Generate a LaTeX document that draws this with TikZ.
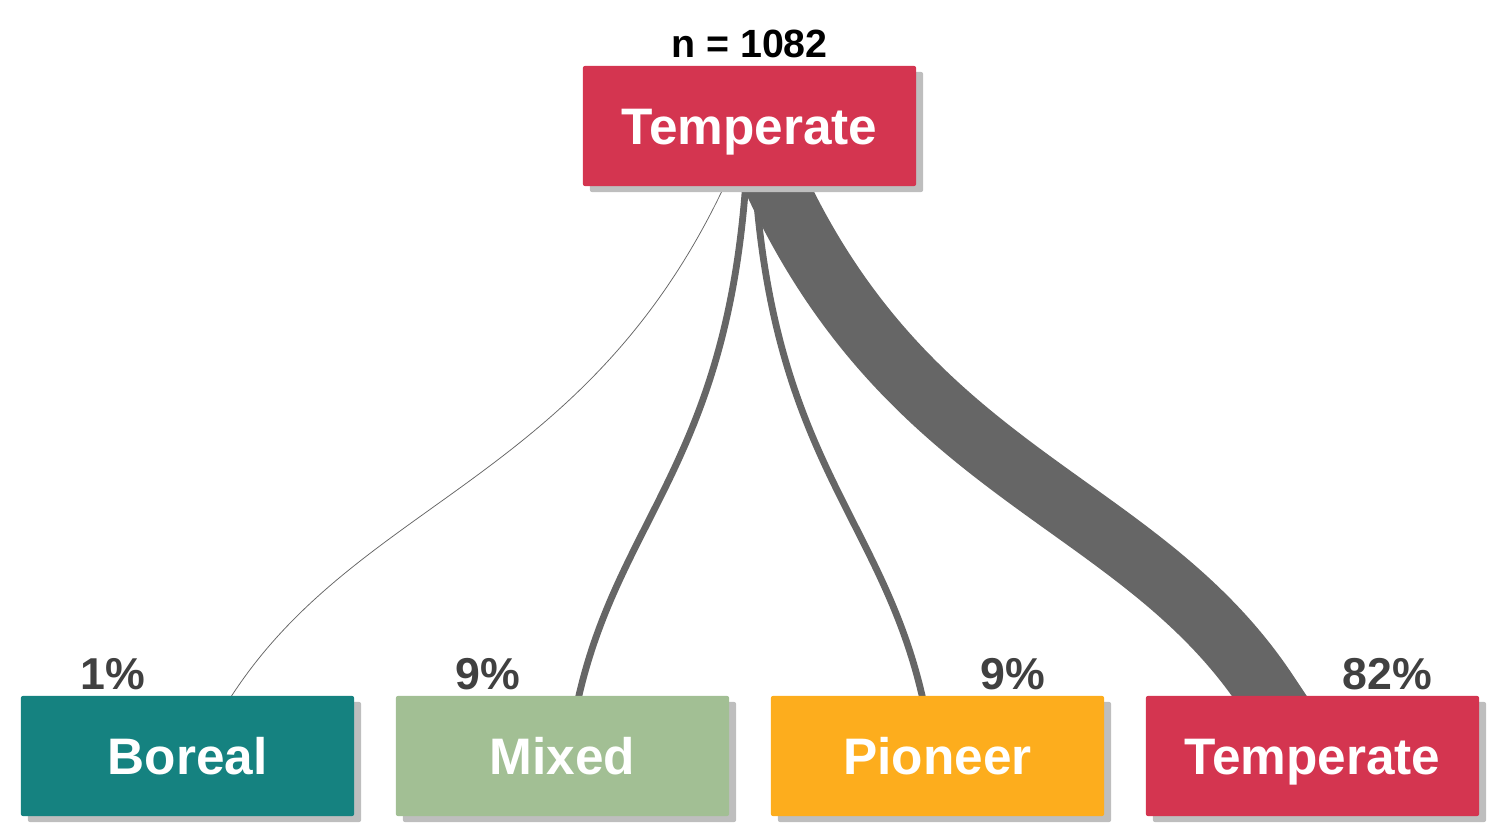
\documentclass[tikz,border=0pt]{standalone}
\usepackage{fontspec}
\setmainfont{Liberation Sans}
\usetikzlibrary{shadows}
\definecolor{tempred}{HTML}{D43550}
\definecolor{borealteal}{HTML}{158280}
\definecolor{mixedgreen}{HTML}{A2BF94}
\definecolor{pioneeryellow}{HTML}{FDAD1D}
\definecolor{shadowgrey}{HTML}{BEBEBE}
\definecolor{flowgrey}{HTML}{666666}
\definecolor{pctgrey}{HTML}{404040}
\pgfdeclarelayer{bg}
\pgfsetlayers{bg,main}

\begin{document}
\begin{tikzpicture}[x=0.01cm, y=-0.01cm,
    catbox/.style={shape=rectangle, minimum width=3.33cm, minimum height=1.2cm,
                   inner sep=0pt, rounded corners=0.2mm, text=white,
                   text height=10.5pt, text depth=0pt,
                   font=\fontsize{14.6}{16}\selectfont\bfseries,
                   drop shadow={shadow xshift=0.07cm, shadow yshift=-0.06cm,
                                fill=shadowgrey, opacity=1}},
    pct/.style={anchor=base, text=pctgrey, font=\fontsize{12.7}{14}\selectfont\bfseries},
    flow/.style={draw=flowgrey, line cap=butt}]
  \useasboundingbox (0,0) rectangle (1500,840);
  % parent
  \node[catbox, fill=tempred] (top) at (749.5,126) {Temperate};
  \node[anchor=base, font=\fontsize{11.2}{13}\selectfont\bfseries] (total)
       at ([yshift=0.08cm]top.north) {n = 1082};
  % children
  \node[catbox, fill=borealteal] (boreal) at (187.5,756) {Boreal};
  \node[catbox, fill=mixedgreen] (mixed) at (562.5,756) {Mixed};
  \node[catbox, fill=pioneeryellow] (pioneer) at (937.5,756) {Pioneer};
  \node[catbox, fill=tempred] (temp) at (1312.5,756) {Temperate};
  % shares
  \node[pct] (pboreal) at ([xshift=-0.75cm, yshift=0.06cm]boreal.north) {1\%};
  \node[pct] (pmixed) at ([xshift=-0.75cm, yshift=0.06cm]mixed.north) {9\%};
  \node[pct] (ppioneer) at ([xshift=0.75cm, yshift=0.06cm]pioneer.north) {9\%};
  \node[pct] (ptemp) at ([xshift=0.75cm, yshift=0.06cm]temp.north) {82\%};
  % flows, width by share
  \begin{pgfonlayer}{bg}
    \draw[flow, line width=0.0076cm] ([xshift=-0.255cm]top.south) ++(21,-44)
      -- ([xshift=-0.255cm]top.south)
      .. controls +(-139,294) and +(128,-196) .. ([xshift=0.445cm]boreal.north) -- ++(-26,39);
    \draw[flow, line width=0.068cm] ([xshift=-0.04cm]top.south) ++(3,-41)
      -- ([xshift=-0.04cm]top.south)
      .. controls +(-20.5,274) and +(41,-176) .. ([xshift=0.165cm]mixed.north) -- ++(-9,39);
    \draw[flow, line width=0.068cm] ([xshift=0.06cm]top.south) ++(-3,-41)
      -- ([xshift=0.06cm]top.south)
      .. controls +(20.5,274) and +(-41,-176) .. ([xshift=-0.155cm]pioneer.north) -- ++(9,39);
    \draw[flow, line width=0.62cm] ([xshift=0.275cm]top.south) ++(-21,-44)
      -- ([xshift=0.275cm]top.south)
      .. controls +(139,294) and +(-128,-196) .. ([xshift=-0.435cm]temp.north) -- ++(26,39);
  \end{pgfonlayer}
\end{tikzpicture}
\end{document}
